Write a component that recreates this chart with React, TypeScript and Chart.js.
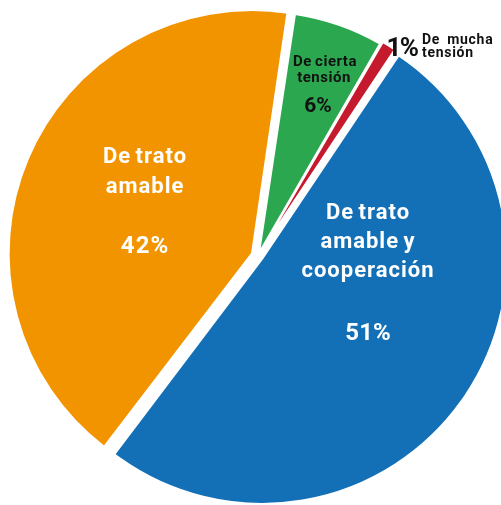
import React, { useEffect, useRef } from 'react';
import { Chart, registerables } from 'chart.js';

Chart.register(...registerables);

// ---- data ----
const categories = ['De cierta tensión', 'De mucha tensión', 'De trato amable y cooperación', 'De trato amable'];
const values = [6, 1, 51, 42];
const percentLabels = ['6%', '1%', '51%', '42%'];
const sliceColors = ['#2BA84F', '#C5192D', '#1370B7', '#F29400'];
const sliceOffsets = [12, 16, 20, 26];

// label layout: [text, dx, dy(baseline), size, align, color, letterSpacing, wordSpacing]
type Line = [string, number, number, number, CanvasTextAlign, string, string, string];
const labelLines: Line[] = [
  ['De trato', -113, -92.7, 22, 'center', '#ffffff', '1px', '-2px'],
  ['amable', -113, -63.3, 22, 'center', '#ffffff', '1px', '-2px'],
  [percentLabels[3], -113, -2.7, 24, 'center', '#ffffff', '1px', '0px'],
  ['De trato', 110, -36.7, 22, 'center', '#ffffff', '1px', '-2px'],
  ['amable y', 110, -7.7, 22, 'center', '#ffffff', '1px', '-2px'],
  ['cooperación', 110, 20.7, 22, 'center', '#ffffff', '1px', '-2px'],
  [percentLabels[2], 110, 84, 24, 'center', '#ffffff', '0px', '0px'],
  ['De cierta', 67, -190.3, 15, 'center', '#111111', '0.5px', '-1px'],
  ['tensión', 66, -174.3, 15, 'center', '#111111', '0.5px', '0px'],
  [percentLabels[0], 60, -144.3, 21, 'center', '#111111', '0px', '0px'],
  [percentLabels[1], 144, -200, 26, 'center', '#111111', '-1.5px', '0px'],
  ['De mucha', 164, -211.7, 14, 'left', '#111111', '0.7px', '3px'],
  ['tensión', 164, -198.7, 14, 'left', '#111111', '0.7px', '0px'],
];

const labelPlugin = {
  id: 'sliceLabels',
  afterDatasetsDraw(chart: any) {
    const meta = chart.getDatasetMeta(0);
    const arc = meta.data[0];
    if (!arc) return;
    const cx = arc.x;
    const cy = arc.y;
    const ctx = chart.ctx as CanvasRenderingContext2D;
    ctx.save();
    ctx.textBaseline = 'alphabetic';
    for (const [text, dx, dy, size, align, color, ls, ws] of labelLines) {
      ctx.font = `bold ${size}px Roboto, "DejaVu Sans", sans-serif`;
      ctx.fillStyle = color;
      ctx.textAlign = align;
      (ctx as any).letterSpacing = ls;
      (ctx as any).wordSpacing = ws;
      ctx.fillText(text, cx + dx, cy + dy);
    }
    ctx.restore();
  },
};

export default function App() {
  const ref = useRef<HTMLCanvasElement | null>(null);
  useEffect(() => {
    if (!ref.current) return;
    const chart = new Chart(ref.current, {
      type: 'pie',
      data: {
        labels: categories,
        datasets: [
          {
            data: values,
            backgroundColor: sliceColors,
            borderColor: '#ffffff',
            borderWidth: 2,
            offset: sliceOffsets,
            clip: false,
          } as any,
        ],
      },
      options: {
        responsive: false,
        animation: false,
        events: [],
        rotation: 8.5,
        radius: 240,
        layout: { padding: { left: 15, top: 7, right: 0, bottom: 0 } },
        plugins: {
          legend: { display: false },
          tooltip: { enabled: false },
          title: { display: false },
        },
      } as any,
      plugins: [labelPlugin],
    });
    return () => chart.destroy();
  }, []);
  return (
    <div style={{ position: 'fixed', left: 0, top: 0, width: 501, height: 505, background: '#fff', overflow: 'hidden' }}>
      <canvas ref={ref} width={501} height={505} style={{ display: 'block' }} />
    </div>
  );
}
